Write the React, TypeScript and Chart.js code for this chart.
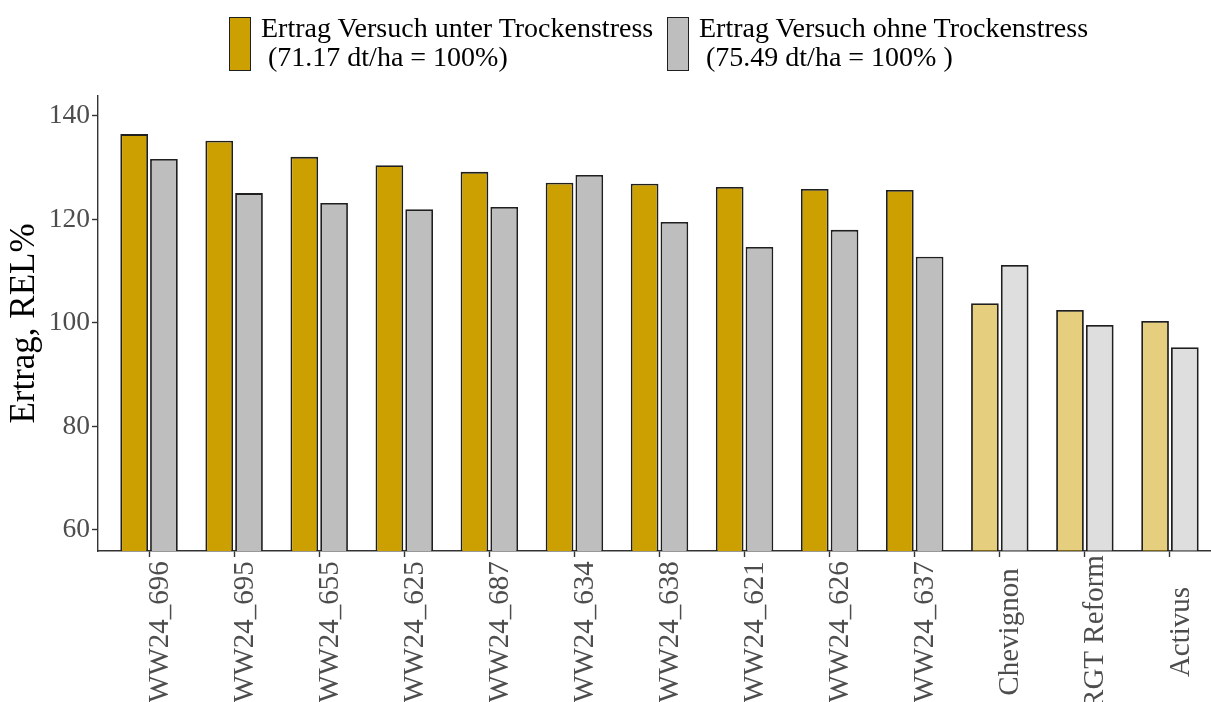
import React, { useEffect, useRef } from "react";
import { Chart, registerables } from "chart.js";

Chart.register(...registerables);

const categories = [
  "WW24_696", "WW24_695", "WW24_655", "WW24_625", "WW24_687", "WW24_634",
  "WW24_638", "WW24_621", "WW24_626", "WW24_637", "Chevignon", "RGT Reform", "Activus",
];
// true for reference (check) varieties, shown in lighter colours
const isCheck = [false, false, false, false, false, false, false, false, false, false, true, true, true];
const stressValues = [136.5, 135.2, 132.1, 130.5, 129.2, 127.1, 126.9, 126.3, 125.9, 125.7, 103.8, 102.5, 100.4];
const noStressValues = [131.7, 125.1, 123.2, 122.0, 122.4, 128.6, 119.5, 114.7, 118.0, 112.8, 111.2, 99.6, 95.3];
const yTicks = [60, 80, 100, 120, 140];
const legendLabels = [
  ["Ertrag Versuch unter Trockenstress", " (71.17 dt/ha = 100%)"],
  ["Ertrag Versuch ohne Trockenstress", " (75.49 dt/ha = 100% )"],
];
const yTitle = "Ertrag, REL%";

const GOLD = "rgb(204,160,0)";
const GOLD_LIGHT = "rgba(204,160,0,0.5)";
const GRAY = "rgb(190,190,190)";
const GRAY_LIGHT = "rgba(190,190,190,0.5)";
const FONT = "'Liberation Serif', 'Times New Roman', serif";

// Draws the x category labels rotated 90° and centred (like hjust = 0.5)
const centeredXLabels = {
  id: "centeredXLabels",
  afterDraw(chart: any) {
    const xs = chart.scales.x;
    const ctx = chart.ctx;
    const centerY = xs.top + 81;
    ctx.save();
    ctx.fillStyle = "#4D4D4D";
    ctx.font = `29px ${FONT}`;
    ctx.textAlign = "center";
    ctx.textBaseline = "middle";
    categories.forEach((label, i) => {
      const x = xs.getPixelForValue(i + 1) + 11;
      ctx.save();
      ctx.translate(x, centerY);
      ctx.rotate(-Math.PI / 2);
      ctx.fillText(label, 0, 0);
      ctx.restore();
    });
    ctx.restore();
  },
};

export default function App() {
  const canvasRef = useRef<HTMLCanvasElement | null>(null);

  useEffect(() => {
    const canvas = canvasRef.current;
    if (!canvas) return;
    const chart = new Chart(canvas, {
      type: "bar",
      data: {
        datasets: [
          {
            label: legendLabels[0].join(""),
            data: stressValues.map((v, i) => ({ x: i + 1, y: v })),
            backgroundColor: isCheck.map((c) => (c ? GOLD_LIGHT : GOLD)),
            borderColor: "#1f1f1f",
            borderWidth: 1.8,
            borderSkipped: false,
          },
          {
            label: legendLabels[1].join(""),
            data: noStressValues.map((v, i) => ({ x: i + 1, y: v })),
            backgroundColor: isCheck.map((c) => (c ? GRAY_LIGHT : GRAY)),
            borderColor: "#1f1f1f",
            borderWidth: 1.8,
            borderSkipped: false,
          },
        ],
      },
      plugins: [centeredXLabels],
      options: {
        animation: false,
        responsive: false,
        devicePixelRatio: 1,
        layout: { padding: { left: 0, right: 0, top: 96, bottom: 0 } },
        plugins: {
          legend: { display: false },
          tooltip: { enabled: false },
        },
        datasets: {
          bar: { categoryPercentage: 0.7, barPercentage: 0.93 },
        },
        scales: {
          x: {
            type: "linear",
            min: 0.4,
            max: 13.6,
            offset: false,
            z: 1,
            border: { display: true, color: "#333333", width: 1.4 },
            grid: {
              offset: false,
              drawOnChartArea: false,
              drawTicks: true,
              tickLength: 6,
              tickColor: "#333333",
              tickWidth: 1.4,
            },
            afterBuildTicks: (scale: any) => {
              scale.ticks = categories.map((_, i) => ({ value: i + 1 }));
            },
            afterFit: (scale: any) => {
              scale.height = 151;
            },
            ticks: {
              display: false,
              autoSkip: false,
            },
          },
          y: {
            type: "linear",
            min: 55.94,
            max: 143.86,
            z: 1,
            border: { display: true, color: "#333333", width: 1.4 },
            grid: {
              drawOnChartArea: false,
              drawTicks: true,
              tickLength: 6,
              tickColor: "#333333",
              tickWidth: 1.4,
            },
            afterBuildTicks: (scale: any) => {
              scale.ticks = yTicks.map((v) => ({ value: v }));
            },
            afterFit: (scale: any) => {
              scale.width = 98;
            },
            ticks: {
              padding: 2,
              color: "#4D4D4D",
              font: { family: FONT, size: 27.5 },
            },
            title: {
              display: true,
              text: yTitle,
              color: "#000000",
              font: { family: FONT, size: 35 },
              padding: { top: 4, bottom: 0 },
            },
          },
        },
      },
    });
    return () => chart.destroy();
  }, []);

  const legendColors = [GOLD, GRAY];
  const boxLeft = [229, 667];
  const textLeft = [261, 699];

  return (
    <div
      style={{
        position: "absolute",
        left: 0,
        top: 0,
        width: 1211,
        height: 702,
        overflow: "hidden",
        background: "#ffffff",
      }}
    >
      <canvas
        ref={canvasRef}
        width={1221}
        height={702}
        style={{ position: "absolute", left: 0, top: 0, width: 1221, height: 702 }}
      />
      {legendLabels.map((lines, k) => (
        <React.Fragment key={k}>
          <div
            style={{
              position: "absolute",
              left: boxLeft[k],
              top: 17,
              width: 22,
              height: 54,
              boxSizing: "border-box",
              background: legendColors[k],
              border: "1.5px solid #1f1f1f",
            }}
          />
          <div
            style={{
              position: "absolute",
              left: textLeft[k],
              top: 13,
              fontFamily: FONT,
              fontSize: 28,
              lineHeight: "29px",
              color: "#000000",
              whiteSpace: "pre",
            }}
          >
            {lines.map((l, j) => (
              <div key={j}>{l}</div>
            ))}
          </div>
        </React.Fragment>
      ))}
    </div>
  );
}
